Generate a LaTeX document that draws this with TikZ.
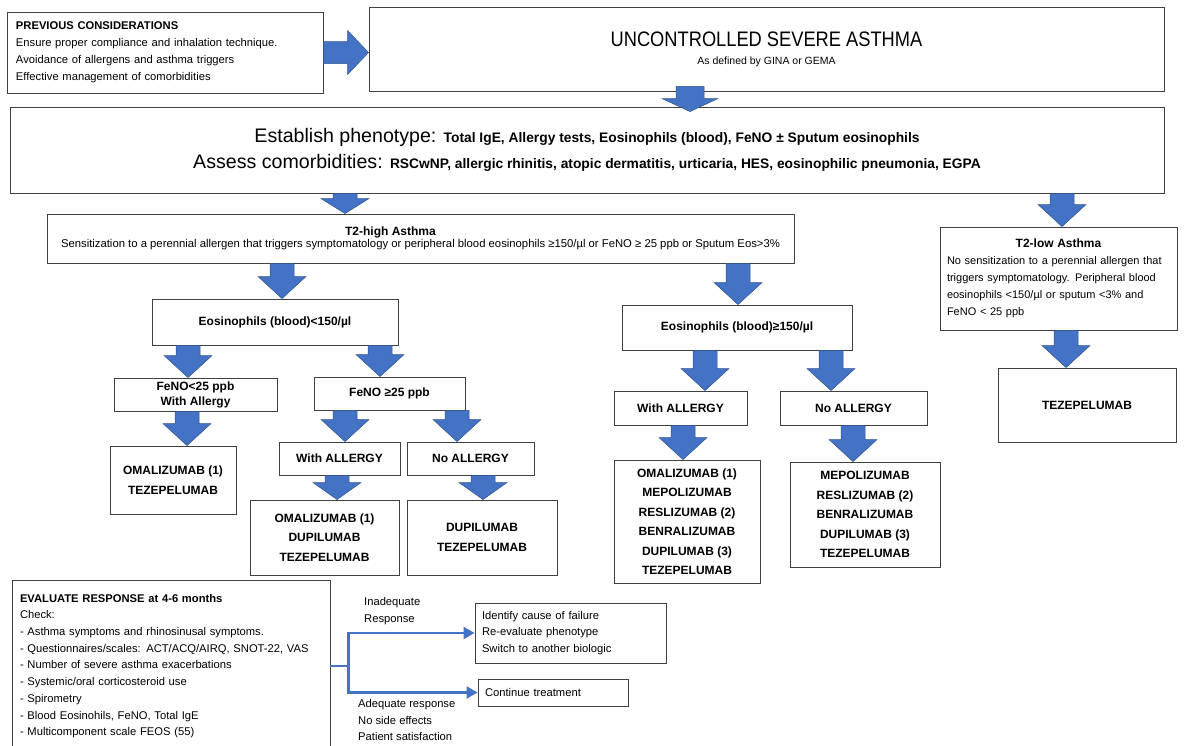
\documentclass[tikz,border=0pt]{standalone}
\usepackage{fontspec}
\setmainfont{Liberation Sans}
\newfontfamily\titlefont[FakeStretch=0.87]{Liberation Sans}
\usetikzlibrary{calc,arrows.meta}

\definecolor{arrowblue}{HTML}{4472C4}
\definecolor{arrowline}{HTML}{2F528F}

\newcommand{\bodytxt}{\fontsize{11.2}{17}\selectfont}
\newcommand{\boldtxt}{\bfseries\fontsize{12}{15}\selectfont}
\newcommand{\drugtxt}{\bfseries\fontsize{12}{19.5}\selectfont}

% block arrow pointing down, from the bottom of #3 to the top of #4 at x=#2, head length #1
\newcommand{\blockdown}[4][22]{%
\path[blockarrow] let \p1=(#3.south), \p2=(#4.north) in
  (#2pt-12pt,\y1) -- (#2pt+12pt,\y1) -- (#2pt+12pt,\y2+#1pt) -- (#2pt+24pt,\y2+#1pt)
  -- (#2pt,\y2) -- (#2pt-24pt,\y2+#1pt) -- (#2pt-12pt,\y2+#1pt) -- cycle;}

\begin{document}
\begin{tikzpicture}[x=1pt,y=-1pt,
  box/.style={draw=black!75,line width=0.9pt,inner sep=0pt,align=center},
  blockarrow/.style={fill=arrowblue,draw=arrowline,line width=0.5pt},
  flow/.style={draw=arrowblue,line width=2.2pt}]
\useasboundingbox (0,0) rectangle (1184,745);

% top row
\node[box,minimum width=316,minimum height=81,text width=298,align=left,font=\bodytxt] (prev) at (165,52.5)
  {{\bfseries PREVIOUS CONSIDERATIONS}\\Ensure proper compliance and inhalation technique.\\
   Avoidance of allergens and asthma triggers\\Effective management of comorbidities};
\node[box,minimum width=795,minimum height=84] (unc) at (766.5,49)
  {{\titlefont\fontsize{21}{25}\selectfont UNCONTROLLED SEVERE ASTHMA}\\[6pt]{\fontsize{10.5}{15}\selectfont As defined by GINA or GEMA}};
\node[box,minimum width=1154,minimum height=86,font={\fontsize{19.6}{26}\selectfont}] (pheno) at (587,150)
  {Establish phenotype: {\bfseries\fontsize{13.8}{26}\selectfont Total IgE, Allergy tests, Eosinophils (blood), FeNO ± Sputum eosinophils}\\
   Assess comorbidities: {\bfseries\fontsize{13.8}{26}\selectfont RSCwNP, allergic rhinitis, atopic dermatitis, urticaria, HES, eosinophilic pneumonia, EGPA}};

% phenotypes
\node[box,minimum width=747,minimum height=49] (t2high) at (420.5,238.5)
  {\hspace*{-60pt}{\bfseries\fontsize{12}{17}\selectfont T2-high Asthma}\\{\fontsize{11.3}{17}\selectfont Sensitization to a perennial allergen that triggers symptomatology or peripheral blood eosinophils ≥150/µl or FeNO ≥ 25 ppb or Sputum Eos>3\%}};
\node[box,minimum width=237,minimum height=103,text width=223,align=left,font={\fontsize{11}{17}\selectfont}] (t2low) at (1058.5,278.5)
  {\makebox[\linewidth]{\bfseries\fontsize{12}{17}\selectfont T2-low Asthma}\\No sensitization to a perennial allergen that\\triggers symptomatology. Peripheral blood\\eosinophils <150/µl or sputum <3\% and\\FeNO < 25 ppb};

% eosinophils
\node[box,minimum width=246,minimum height=46,font=\boldtxt] (eoslow) at (275,322) {Eosinophils (blood)<150/µl};
\node[box,minimum width=230,minimum height=45,font=\boldtxt] (eoshigh) at (737,327.5) {Eosinophils (blood)≥150/µl};

\node[box,minimum width=163,minimum height=33,font=\boldtxt] (fenolow) at (195.5,394.5) {FeNO<25 ppb\\With Allergy};
\node[box,minimum width=151,minimum height=33,font=\boldtxt] (fenohigh) at (389.5,393.5) {FeNO ≥25 ppb};
\node[box,minimum width=121,minimum height=33,font=\boldtxt] (allergyA) at (339.5,458.5) {With ALLERGY};
\node[box,minimum width=127,minimum height=33,font=\boldtxt] (noallergyA) at (470.5,458.5) {No ALLERGY};
\node[box,minimum width=133,minimum height=34,font=\boldtxt] (allergyB) at (680.5,408) {With ALLERGY};
\node[box,minimum width=147,minimum height=34,font=\boldtxt] (noallergyB) at (853.5,408) {No ALLERGY};

% biologics
\node[box,minimum width=126,minimum height=68,font=\drugtxt] (drugA) at (173,480) {OMALIZUMAB (1)\\TEZEPELUMAB};
\node[box,minimum width=149,minimum height=75,font=\drugtxt] (drugB) at (324.5,537.5) {OMALIZUMAB (1)\\DUPILUMAB\\TEZEPELUMAB};
\node[box,minimum width=150,minimum height=75,font=\drugtxt] (drugC) at (482,537.5) {DUPILUMAB\\TEZEPELUMAB};
\node[box,minimum width=146,minimum height=123,font=\drugtxt] (drugD) at (687,521.5)
  {OMALIZUMAB (1)\\MEPOLIZUMAB\\RESLIZUMAB (2)\\BENRALIZUMAB\\DUPILUMAB (3)\\TEZEPELUMAB};
\node[box,minimum width=150,minimum height=105,font=\drugtxt] (drugE) at (865,514.5)
  {MEPOLIZUMAB\\RESLIZUMAB (2)\\BENRALIZUMAB\\DUPILUMAB (3)\\TEZEPELUMAB};
\node[box,minimum width=178,minimum height=74,font=\drugtxt] (tez) at (1087,405) {TEZEPELUMAB};

% response
\node[box,minimum width=318,minimum height=172,text width=302,align=left,font={\fontsize{11.2}{16.7}\selectfont}] (evaluate) at (171,666)
  {{\bfseries EVALUATE RESPONSE at 4-6 months}\\Check:\\- Asthma symptoms and rhinosinusal symptoms.\\
   - Questionnaires/scales: ACT/ACQ/AIRQ, SNOT-22, VAS\\- Number of severe asthma exacerbations\\
   - Systemic/oral corticosteroid use\\- Spirometry\\- Blood Eosinohils, FeNO, Total IgE\\- Multicomponent scale FEOS (55)\\[4pt]};
\node[box,minimum width=191,minimum height=60,text width=177,align=left,font={\fontsize{11.2}{16.5}\selectfont}] (identify) at (570.5,633)
  {Identify cause of failure\\Re-evaluate phenotype\\Switch to another biologic};
\node[box,minimum width=150,minimum height=27,text width=136,align=left,font={\fontsize{11.2}{16.5}\selectfont}] (continue) at (553,692.5)
  {Continue treatment};
\node[anchor=west,align=left,inner sep=0pt,font={\fontsize{11.2}{16.5}\selectfont}] (inadequate) at (364,611) {Inadequate\\Response};
\node[anchor=west,align=left,inner sep=0pt,font={\fontsize{11.2}{16.5}\selectfont}] (adequate) at (358,720)
  {Adequate response\\No side effects\\Patient satisfaction};

% block arrows
\path[blockarrow] let \p1=(prev.east), \p2=(unc.west) in
  (\x1,\y1+11pt) -- (\x2-21pt,\y1+11pt) -- (\x2-21pt,\y1+22pt) -- (\x2,\y1) -- (\x2-21pt,\y1-22pt)
  -- (\x2-21pt,\y1-11pt) -- (\x1,\y1-11pt) -- cycle;
\path[blockarrow] let \p1=(unc.south), \p2=(pheno.north) in
  (676pt,\y1+5pt) -- (704pt,\y1+5pt) -- (704pt,\y2+8pt) -- (718pt,\y2+8pt) -- (690pt,\y2-5pt)
  -- (662pt,\y2+8pt) -- (676pt,\y2+8pt) -- cycle;
\blockdown[15]{345}{pheno}{t2high}
\blockdown{1062}{pheno}{t2low}
\blockdown{282}{t2high}{eoslow}
\blockdown{738}{t2high}{eoshigh}
\blockdown{1066}{t2low}{tez}
\blockdown{188}{eoslow}{fenolow}
\blockdown{380}{eoslow}{fenohigh}
\blockdown{187}{fenolow}{drugA}
\blockdown{345}{fenohigh}{allergyA}
\blockdown{457}{fenohigh}{noallergyA}
\blockdown[17]{337}{allergyA}{drugB}
\blockdown[17]{483}{noallergyA}{drugC}
\blockdown{705}{eoshigh}{allergyB}
\blockdown{831}{eoshigh}{noallergyB}
\blockdown{683}{allergyB}{drugD}
\blockdown{853}{noallergyB}{drugE}

% response branches
\draw[flow] (evaluate.east) -- ++(18,0) coordinate (split);
\draw[flow,-{Triangle[length=11pt,width=12pt]}] (split) |- (identify.west);
\draw[flow,-{Triangle[length=11pt,width=12pt]}] (split) |- (continue.west);
\end{tikzpicture}
\end{document}
